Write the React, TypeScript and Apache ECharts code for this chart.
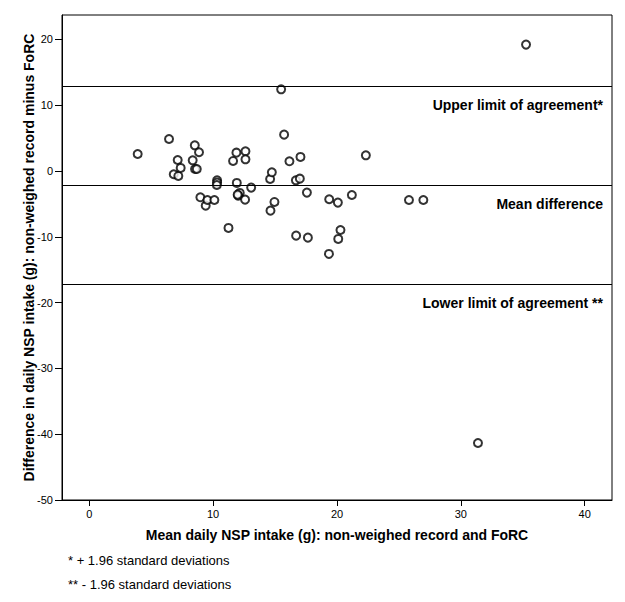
import React, { useEffect, useRef } from "react";
import * as echarts from "echarts";

const xVals = [3.91, 6.44, 7.14, 6.82, 7.19, 7.38, 8.52, 8.86, 8.35, 8.54, 8.68, 8.97, 9.4, 9.54, 10.1, 10.32, 10.32, 10.3, 11.24, 11.61, 11.88, 12.61, 12.61, 11.91, 12.15, 12.02, 11.98, 12.58, 13.07, 14.6, 14.74, 14.95, 14.63, 15.49, 15.73, 16.16, 17.05, 16.68, 17.0, 17.57, 16.7, 17.65, 35.26, 22.33, 19.37, 20.07, 21.2, 25.81, 26.97, 20.28, 20.1, 19.35, 31.38];
const yVals = [2.58, 4.86, 1.67, -0.5, -0.76, 0.46, 3.9, 2.84, 1.62, 0.3, 0.3, -4.0, -5.27, -4.41, -4.41, -1.42, -1.77, -2.13, -8.66, 1.52, 2.78, 2.99, 1.77, -1.82, -3.34, -3.75, -3.6, -4.36, -2.53, -1.22, -0.2, -4.71, -6.03, 12.41, 5.52, 1.47, 2.13, -1.42, -1.17, -3.29, -9.83, -10.13, 19.2, 2.38, -4.3, -4.81, -3.65, -4.41, -4.41, -8.97, -10.33, -12.61, -41.34];

const refValues = [12.92, -2.13, -17.2];
const refLabels = ["Upper limit of agreement*", "Mean difference", "Lower limit of agreement **"];

const xTicks = [0, 10, 20, 30, 40];
const yTicks = [-50, -40, -30, -20, -10, 0, 10, 20];
const xRange = [-2.2, 42.2];
const yRange = [-50, 23.7];

const xTitle = "Mean daily NSP intake (g): non-weighed record and FoRC";
const yTitle = "Difference in daily NSP intake (g): non-weighed record minus FoRC";
const footnotes = ["* + 1.96 standard deviations", "** - 1.96 standard deviations"];

const FONT = "Liberation Sans, Arial, sans-serif";

export default function App() {
  const ref = useRef<HTMLDivElement>(null);
  useEffect(() => {
    if (!ref.current) return;
    const chart = echarts.init(ref.current, undefined, { renderer: "svg" });
    const data = xVals.map((x, i) => [x, yVals[i]]);
    chart.setOption({
      animation: false,
      backgroundColor: "#fff",
      textStyle: { fontFamily: FONT },
      grid: { left: 62, top: 15, right: 13, bottom: 102, show: true, borderColor: "#000", borderWidth: 1, backgroundColor: "transparent" },
      xAxis: {
        type: "value",
        min: xRange[0],
        max: xRange[1],
        name: xTitle,
        nameLocation: "middle",
        nameGap: 28,
        nameMoveOverlap: false,
        nameTextStyle: { fontFamily: FONT, fontWeight: "bold", fontSize: 14, color: "#000" },
        axisLine: { show: true, onZero: false, lineStyle: { color: "#000", width: 1 } },
        axisTick: { show: true, length: 6, lineStyle: { color: "#000" }, customValues: xTicks },
        axisLabel: { fontFamily: FONT, fontSize: 11, color: "#000", margin: 8, customValues: xTicks },
        splitLine: { show: false },
      },
      yAxis: {
        type: "value",
        min: yRange[0],
        max: yRange[1],
        name: yTitle,
        nameLocation: "middle",
        nameGap: 26,
        nameMoveOverlap: false,
        nameTextStyle: { fontFamily: FONT, fontWeight: "bold", fontSize: 14, color: "#000" },
        axisLine: { show: true, onZero: false, lineStyle: { color: "#000", width: 1 } },
        axisTick: { show: true, length: 7, lineStyle: { color: "#000" }, customValues: yTicks },
        axisLabel: { fontFamily: FONT, fontSize: 11, color: "#000", margin: 9, customValues: yTicks },
        splitLine: { show: false },
      },
      series: [
        {
          type: "scatter",
          data,
          symbol: "circle",
          symbolSize: 8,
          itemStyle: { color: "#fff", borderColor: "#000", borderWidth: 2 },
          markLine: {
            silent: true,
            symbol: ["none", "none"],
            label: { show: false },
            lineStyle: { color: "#000", width: 1, type: "solid" },
            data: refValues.map((v) => ({ yAxis: v })),
          },
          z: 3,
        },
      ],
    });
    const rightX = chart.convertToPixel({ xAxisIndex: 0 }, xRange[1]) as number;
    const graphics: any[] = refValues.map((v, i) => ({
      type: "text",
      x: rightX - 9,
      y: (chart.convertToPixel({ yAxisIndex: 0 }, v) as number) + 19,
      style: { text: refLabels[i], fontFamily: FONT, fontWeight: "bold", fontSize: 14, fill: "#000", align: "right", verticalAlign: "middle" },
    }));
    footnotes.forEach((t, i) => {
      graphics.push({
        type: "text",
        x: 68,
        y: 560 + i * 24,
        style: { text: t, fontFamily: FONT, fontSize: 13, fill: "#000", align: "left", verticalAlign: "middle" },
      });
    });
    chart.setOption({ graphic: graphics });
    return () => chart.dispose();
  }, []);
  return <div ref={ref} style={{ position: "fixed", left: 0, top: 0, width: 625, height: 602 }} />;
}
